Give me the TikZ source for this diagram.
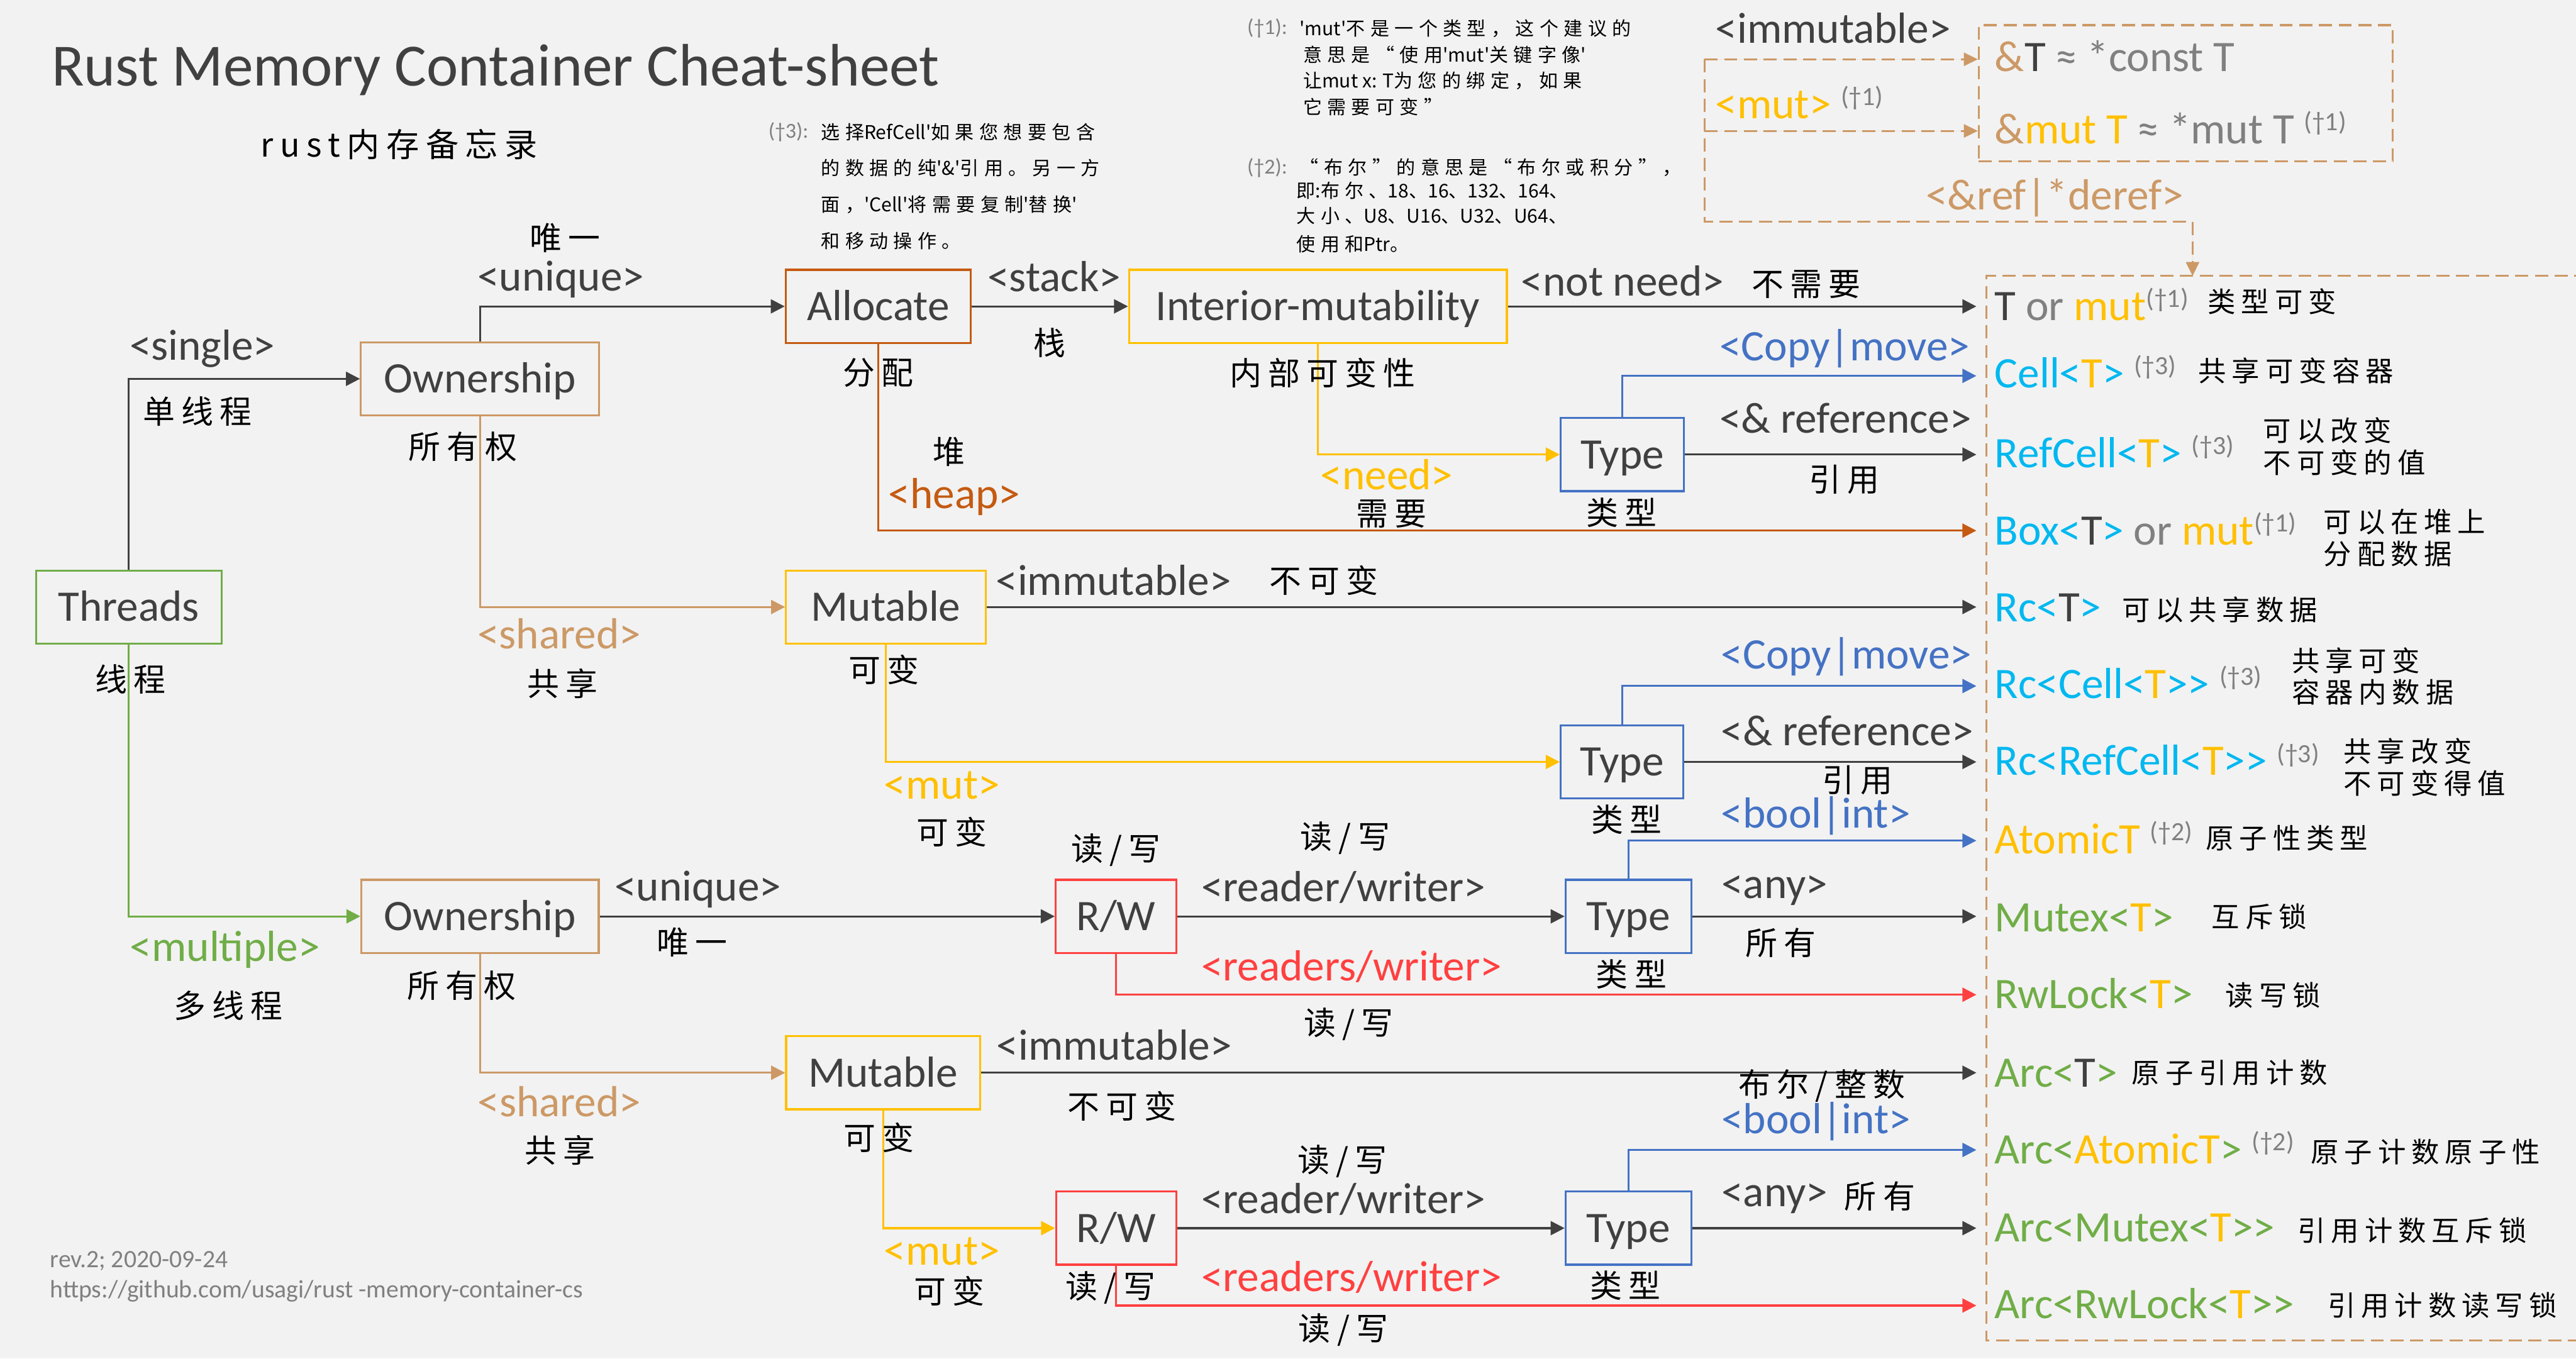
\documentclass[tikz,border=0pt]{standalone}
\usepackage{fontspec}
\setmainfont{Carlito}
\newfontfamily\cjk[LetterSpace=20]{Noto Sans CJK SC}
\newfontfamily\cjknote[LetterSpace=28]{Noto Sans CJK SC}
\newfontfamily\cjkplain{Noto Sans CJK SC}
\usetikzlibrary{arrows.meta}

\definecolor{bg}{HTML}{F2F2F2}
\definecolor{ink}{HTML}{404040}
\definecolor{muted}{HTML}{808080}
\definecolor{tan}{RGB}{204,153,102}
\definecolor{rust}{HTML}{C55A11}
\definecolor{gold}{HTML}{FFC000}
\definecolor{steel}{HTML}{4472C4}
\definecolor{alarm}{RGB}{255,64,64}
\definecolor{leaf}{HTML}{70AD47}
\definecolor{sky}{RGB}{0,184,240}

% footnote marker, raised and grey
\newcommand\dagnote[1]{\textcolor{muted}{\fontsize{16}{16}\selectfont\raisebox{8pt}{(†#1)}}}
% two closing angle brackets without any ligature
\newcommand\dblgt{>\kern0pt>}
% Latin run inside the spaced-out note text, set without extra letter spacing
\newcommand\la[1]{{\cjkplain #1}}

\tikzset{
  box/.style={draw, line width=1.2pt, minimum height=44.5pt, inner sep=0pt, text=ink,
    font=\fontsize{26.5}{30}\selectfont, text height=17pt, text depth=0pt},
  lbl/.style={anchor=base west, inner sep=0pt, text=ink, font=\fontsize{26.5}{30}\selectfont},
  zh/.style={inner sep=0pt, text=black, font=\cjk\fontsize{19.5}{22}\selectfont},
  zhr/.style={anchor=west, inner sep=0pt, text=black, font=\cjk\fontsize{17}{19.5}\selectfont, align=left},
  item/.style={anchor=base west, inner sep=0pt, text=ink, font=\fontsize{26.5}{30}\selectfont},
  wire/.style={line width=1.2pt, -{Triangle[length=8.5pt,width=8.5pt]}},
  refline/.style={draw=tan, line width=1.2pt, dash pattern=on 8pt off 4pt},
  reftip/.style={-{Triangle[length=8.5pt,width=8pt]}},
  notemark/.style={anchor=west, inner sep=0pt, text=muted, font=\fontsize{13}{14}\selectfont},
  noteline/.style={anchor=west, inner sep=0pt, text=black, font=\cjknote\fontsize{11.5}{13}\selectfont},
  foot/.style={anchor=base west, inner sep=0pt, text=muted, font=\fontsize{15.2}{17}\selectfont},
}

\begin{document}
\begin{tikzpicture}[x=1pt,y=-1pt]
\path[use as bounding box, fill=bg] (0,0) rectangle (1568,827);

% ---------- title ----------
\node[anchor=base west, inner sep=0pt, text=ink, font=\fontsize{36.5}{40}\selectfont] (title) at (31.2,52.3) {Rust Memory Container Cheat-sheet};
\node[zh, font=\cjk\fontsize{20}{24}\selectfont] (subtitle) at (243,88) {rust内存备忘录};

% ---------- footnotes ----------
\node[notemark] (n1m) at (759,17.2) {(†1):};
\node[noteline] (n1a) at (790.9,17.2) {\la{'mut'}不是一个类型，这个建议的};
\node[noteline] (n1b) at (793,33.2) {意思是“使用\la{'mut'}关键字像\la{'}};
\node[noteline] (n1c) at (793,49.1) {让\la{mut x: T}为您的绑定，如果};
\node[noteline] (n1d) at (793,65.1) {它需要可变”};

\node[notemark] (n2m) at (759,102.1) {(†2):};
\node[noteline] (n2a) at (791,102.1) {“布尔”的意思是“布尔或积分”，};
\node[noteline] (n2b) at (789,116.1) {即\la{:}布尔、\la{18}、\la{16}、\la{132}、\la{164}、};
\node[noteline] (n2c) at (789,131.4) {大小、\la{U8}、\la{U16}、\la{U32}、\la{U64}、};
\node[noteline] (n2d) at (789,148.7) {使用和\la{Ptr}。};

\node[notemark] (n3m) at (467.5,80.4) {(†3):};
\node[noteline] (n3a) at (499.6,80.4) {选择\la{RefCell'}如果您想要包含};
\node[noteline] (n3b) at (499.6,102.1) {的数据的纯\la{'\&'}引用。另一方};
\node[noteline] (n3c) at (499.6,124.4) {面，\la{'Cell'}将需要复制\la{'}替换\la{'}};
\node[noteline] (n3d) at (499.6,146.7) {和移动操作。};

% ---------- reference / pointer legend ----------
\node[lbl] (immlegend) at (1044,26.2) {<immutable>};
\node[lbl, text=gold] (mutlegend) at (1044,72) {<mut> \dagnote{1}};
\node[lbl, text=tan] (deref) at (1172,127.6) {<\&ref|*deref>};
\node[draw=tan, line width=1.2pt, dash pattern=on 8pt off 4pt, minimum width=252pt, minimum height=83pt, inner sep=0pt]
  (refbox) at (1330.5,56.8) {};
\node[item] (refconst) at (1214,43.4) {\textcolor{tan}{\&}T \textcolor{muted}{≈ *const T}};
\node[item] (refmut) at (1214,87.4) {\textcolor{tan}{\&}\textcolor{gold}{mut T} \textcolor{muted}{≈ *mut T} \dagnote{1}};

\coordinate (dA) at (1037.5,36.1);
\coordinate (dB) at (1037.5,79.7);
\coordinate (dC) at (1037.5,135);
\coordinate (dD) at (1334.6,135);
\draw[refline] (dA) -- (dC) -- (dD);
\draw[refline, reftip, fill=tan] (dA) -- (dA -| refbox.west);
\draw[refline, reftip, fill=tan] (dB) -- (dB -| refbox.west);

% container column frame, open on the right
\coordinate (frameTL) at (1209,168);
\coordinate (frameBL) at (1209,816);
\draw[refline] (1575,168) -- (frameTL) -- (frameBL) -- (1575,816);
\draw[refline, reftip, fill=tan] (dD) -- (dD |- frameTL);

% ---------- decision boxes ----------
\node[box, draw=leaf, minimum width=112.8pt] (threads) at (78.4,369.5) {Threads};
\node[box, draw=tan, minimum width=145pt] (own1) at (292.2,230.6) {Ownership};
\node[box, draw=rust, minimum width=112.7pt] (alloc) at (534.6,186.5) {Allocate};
\node[box, draw=gold, minimum width=230pt] (inter) at (802.2,186.5) {Interior-mutability};
\node[box, draw=steel, minimum width=75pt] (type1) at (987.5,276.7) {Type};
\node[box, draw=gold, minimum width=121.5pt] (mut1) at (539.2,369.5) {Mutable};
\node[box, draw=steel, minimum width=74.6pt] (type2) at (987.3,463.8) {Type};
\node[box, draw=tan, minimum width=144.5pt] (own2) at (292.2,557.8) {Ownership};
\node[box, draw=alarm, minimum width=73.4pt] (rw1) at (679.3,557.8) {R/W};
\node[box, draw=steel, minimum width=76.5pt] (type3) at (991.2,557.8) {Type};
\node[box, draw=gold, minimum width=118pt] (mut2) at (537.5,653) {Mutable};
\node[box, draw=alarm, minimum width=73.2pt] (rw2) at (679.4,747.6) {R/W};
\node[box, draw=steel, minimum width=76.5pt] (type4) at (991.2,747.6) {Type};

% ---------- container column ----------
\coordinate (tips) at (1203,0);
\coordinate (t2) at (1203,228.8);
\coordinate (t4) at (1203,323);
\coordinate (t6) at (1203,417.6);
\coordinate (t8) at (1203,511.7);
\coordinate (t10) at (1203,605.5);
\coordinate (t12) at (1203,700);
\coordinate (t14) at (1203,794.7);

\node[item] (r1) at (1214,195) {T \textcolor{muted}{or} \textcolor{gold}{mut}\dagnote{1}};
\node[item] (r2) at (1214,236) {\textcolor{sky}{Cell<}\textcolor{gold}{T}\textcolor{sky}{>} \dagnote{3}};
\node[item] (r3) at (1214,284.5) {\textcolor{sky}{RefCell<}\textcolor{gold}{T}\textcolor{sky}{>} \dagnote{3}};
\node[item] (r4) at (1214,331.6) {\textcolor{sky}{Box<}T\textcolor{sky}{>} \textcolor{muted}{or} \textcolor{gold}{mut}\dagnote{1}};
\node[item] (r5) at (1214,378.5) {\textcolor{sky}{Rc<}T\textcolor{sky}{>}};
\node[item] (r6) at (1214,425) {\textcolor{sky}{Rc<Cell<}\textcolor{gold}{T}\textcolor{sky}{\dblgt} \dagnote{3}};
\node[item] (r7) at (1214,472) {\textcolor{sky}{Rc<RefCell<}\textcolor{gold}{T}\textcolor{sky}{\dblgt} \dagnote{3}};
\node[item] (r8) at (1214,519.6) {\textcolor{gold}{AtomicT} \dagnote{2}};
\node[item] (r9) at (1214,567) {\textcolor{leaf}{Mutex<}\textcolor{gold}{T}\textcolor{leaf}{>}};
\node[item] (r10) at (1214,614) {\textcolor{leaf}{RwLock<}\textcolor{gold}{T}\textcolor{leaf}{>}};
\node[item] (r11) at (1214,661.6) {\textcolor{leaf}{Arc<}T\textcolor{leaf}{>}};
\node[item] (r12) at (1214,708.3) {\textcolor{leaf}{Arc<}\textcolor{gold}{AtomicT}\textcolor{leaf}{>} \dagnote{2}};
\node[item] (r13) at (1214,755.8) {\textcolor{leaf}{Arc<Mutex<}\textcolor{gold}{T}\textcolor{leaf}{\dblgt}};
\node[item] (r14) at (1214,802.5) {\textcolor{leaf}{Arc<RwLock<}\textcolor{gold}{T}\textcolor{leaf}{\dblgt}};

\node[zhr] (z1) at (1343.7,183.7) {类型可变};
\node[zhr] (z2) at (1337.9,225.7) {共享可变容器};
\node[zhr] (z3) at (1377.5,271.7) {可以改变\\不可变的值};
\node[zhr] (z4) at (1414.2,327.5) {可以在堆上\\分配数据};
\node[zhr] (z5) at (1291.4,371) {可以共享数据};
\node[zhr] (z6) at (1394.8,411.7) {共享可变\\容器内数据};
\node[zhr] (z7) at (1426.4,467) {共享改变\\不可变得值};
\node[zhr] (z8) at (1342.5,510) {原子性类型};
\node[zhr] (z9) at (1346.1,558) {互斥锁};
\node[zhr] (z10) at (1354.5,606) {读写锁};
\node[zhr] (z11) at (1297.5,653) {原子引用计数};
\node[zhr] (z12) at (1406.5,701) {原子计数原子性};
\node[zhr] (z13) at (1398.4,749) {引用计数互斥锁};
\node[zhr] (z14) at (1416.7,794.7) {引用计数读写锁};

% ---------- connectors: single thread ----------
\draw[wire, ink] (threads.north) |- (own1.west);
\draw[wire, ink] (own1.north) |- (alloc.west);
\draw[wire, tan] (own1.south) |- (mut1.west);
\draw[wire, ink] (alloc.east) -- (inter.west);
\draw[wire, ink] (inter.east) -- (inter.east -| tips);
\draw[wire, rust] (alloc.south) |- (t4);
\draw[wire, gold] (inter.south) |- (type1.west);
\draw[wire, steel] (type1.north) |- (t2);
\draw[wire, ink] (type1.east) -- (type1.east -| tips);
\draw[wire, ink] (mut1.east) -- (mut1.east -| tips);
\draw[wire, gold] (mut1.south) |- (type2.west);
\draw[wire, steel] (type2.north) |- (t6);
\draw[wire, ink] (type2.east) -- (type2.east -| tips);

% ---------- connectors: multiple threads ----------
\draw[wire, leaf] (threads.south) |- (own2.west);
\draw[wire, ink] (own2.east) -- (rw1.west);
\draw[wire, tan] (own2.south) |- (mut2.west);
\draw[wire, ink] (rw1.east) -- (type3.west);
\draw[wire, alarm] (rw1.south) |- (t10);
\draw[wire, steel] (type3.north) |- (t8);
\draw[wire, ink] (type3.east) -- (type3.east -| tips);
\draw[wire, ink] (mut2.east) -- (mut2.east -| tips);
\draw[wire, gold] (mut2.south) |- (rw2.west);
\draw[wire, ink] (rw2.east) -- (type4.west);
\draw[wire, alarm] (rw2.south) |- (t14);
\draw[wire, steel] (type4.north) |- (t12);
\draw[wire, ink] (type4.east) -- (type4.east -| tips);

% ---------- edge labels ----------
\node[lbl] (lsingle) at (78.7,219) {<single>};
\node[lbl] (lunique1) at (290.5,177) {<unique>};
\node[lbl] (lstack) at (601,177.4) {<stack>};
\node[lbl] (lnotneed) at (925.7,180) {<not need>};
\node[lbl, text=tan] (lshared1) at (290.5,394.7) {<shared>};
\node[lbl, text=rust] (lheap) at (540.6,309.4) {<heap>};
\node[lbl, text=gold] (lneed) at (803.6,298) {<need>};
\node[lbl, text=steel] (lcopy1) at (1046.5,219.4) {<Copy|move>};
\node[lbl] (lref1) at (1046.5,263.5) {<\& reference>};
\node[lbl] (limm1) at (606,362.4) {<immutable>};
\node[lbl, text=gold] (lmut1) at (538,486.2) {<mut>};
\node[lbl, text=steel] (lcopy2) at (1047.5,407) {<Copy|move>};
\node[lbl] (lref2) at (1047.5,453.7) {<\& reference>};
\node[lbl, text=steel] (lbool1) at (1047.5,504) {<bool|int>};
\node[lbl, text=leaf] (lmulti) at (79,585) {<multiple>};
\node[lbl] (lunique2) at (374,548.3) {<unique>};
\node[lbl] (lrw1) at (731,548.8) {<reader/writer>};
\node[lbl] (lany1) at (1047.7,547) {<any>};
\node[lbl, text=alarm] (lrws1) at (731,597) {<readers/writer>};
\node[lbl, text=tan] (lshared2) at (290.6,679.6) {<shared>};
\node[lbl] (limm2) at (606.5,645.3) {<immutable>};
\node[lbl, text=steel] (lbool2) at (1047.7,690) {<bool|int>};
\node[lbl, text=gold] (lmut2) at (538,770) {<mut>};
\node[lbl] (lrw2) at (731,738.8) {<reader/writer>};
\node[lbl] (lany2) at (1047.7,734.5) {<any>};
\node[lbl, text=alarm] (lrws2) at (731,786.2) {<readers/writer>};

% ---------- Chinese annotations ----------
\node[zh] (c01) at (120.2,250.3) {单线程};
\node[zh] (c02) at (344,144.8) {唯一};
\node[zh] (c03) at (281.8,271.8) {所有权};
\node[zh] (c04) at (534.7,227) {分配};
\node[zh] (c05) at (639,208.7) {栈};
\node[zh] (c06) at (805,227) {内部可变性};
\node[zh] (c07) at (1099.5,173) {不需要};
\node[zh] (c08) at (577.7,275) {堆};
\node[zh] (c09) at (846.8,312.7) {需要};
\node[zh] (c10) at (987,312) {类型};
\node[zh] (c11) at (1122.5,292) {引用};
\node[zh] (c12) at (79.3,413.5) {线程};
\node[zh] (c13) at (342.5,416) {共享};
\node[zh] (c14) at (538,407.7) {可变};
\node[zh] (c15) at (805.7,353.5) {不可变};
\node[zh] (c16) at (579.5,506.6) {可变};
\node[zh] (c17) at (1130.5,474.7) {引用};
\node[zh] (c18) at (990.3,499) {类型};
\node[zh] (c19) at (679.2,517.5) {读/写};
\node[zh] (c20) at (818.8,510) {读/写};
\node[zh] (c21) at (421.3,573.6) {唯一};
\node[zh] (c22) at (281,600) {所有权};
\node[zh] (c23) at (139,612) {多线程};
\node[zh] (c24) at (1084,574) {所有};
\node[zh] (c25) at (993,593) {类型};
\node[zh] (c26) at (821,623.3) {读/写};
\node[zh] (c27) at (341,700) {共享};
\node[zh] (c28) at (535,692.5) {可变};
\node[zh] (c29) at (683,673.3) {不可变};
\node[zh] (c30) at (1109,660.8) {布尔/整数};
\node[zh] (c31) at (817,706.8) {读/写};
\node[zh] (c32) at (1144.2,728.2) {所有};
\node[zh] (c33) at (578,786) {可变};
\node[zh] (c34) at (676,784) {读/写};
\node[zh] (c35) at (989.2,782.6) {类型};
\node[zh] (c36) at (817.7,809.6) {读/写};

% ---------- footer ----------
\node[foot] (rev) at (30.3,771.5) {rev.2; 2020-09-24};
\node[foot] (url) at (30.3,790) {https://github.com/usagi/rust -memory-container-cs};
\end{tikzpicture}
\end{document}
